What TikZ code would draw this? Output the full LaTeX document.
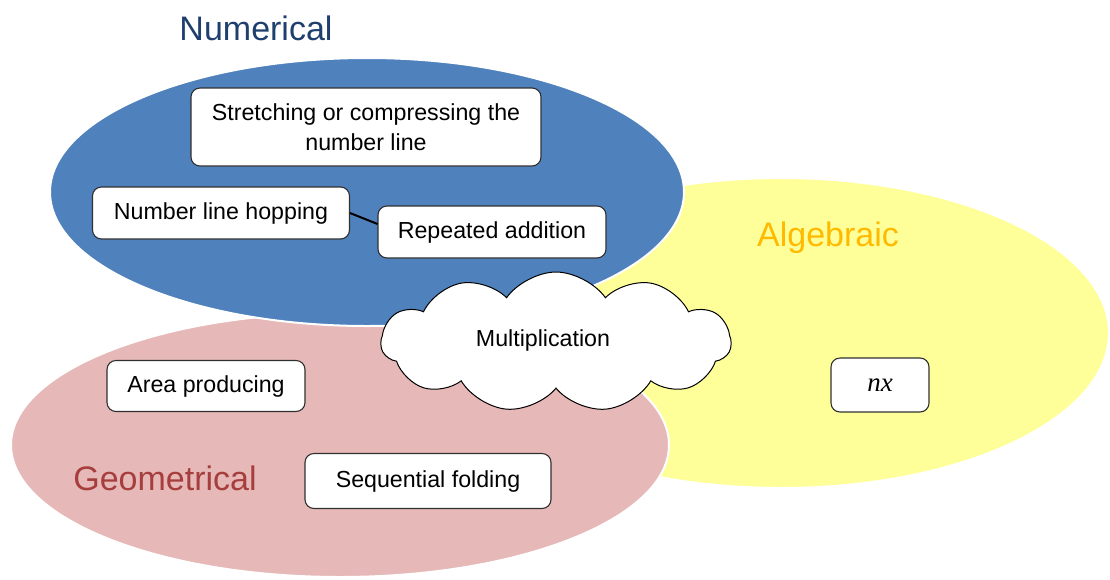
\documentclass[tikz,border=0pt]{standalone}
\usepackage{fontspec}
\setmainfont{Liberation Sans}
\newfontfamily\mathserif{Liberation Serif}
\usetikzlibrary{shapes.geometric,shapes.symbols}
\definecolor{numblue}{HTML}{4F81BD}
\definecolor{geopink}{HTML}{E6B9B8}
\definecolor{algyellow}{HTML}{FFFF99}
\definecolor{numtitle}{HTML}{1F3F6E}
\definecolor{algtitle}{HTML}{FFBA00}
\definecolor{geotitle}{HTML}{A53E3C}
\definecolor{boxline}{HTML}{303030}
\tikzset{
  region/.style={ellipse, draw=white, line width=2pt, inner sep=0pt},
  idea/.style={rectangle, rounded corners=9pt, draw=boxline, line width=1.1pt, fill=white,
    font=\fontsize{23.2}{30}\selectfont, align=center, inner sep=0pt},
  title/.style={font=\fontsize{34}{40}\selectfont, inner sep=0pt},
}
\begin{document}
\begin{tikzpicture}[x=1pt,y=-1pt]
\useasboundingbox (0,0) rectangle (1110,579);
% regions
\node[region, fill=algyellow, minimum width=656pt, minimum height=310pt] (alg) at (781,333) {};
\node[region, fill=geopink, minimum width=658pt, minimum height=264pt] (geo) at (340,445) {};
\node[region, fill=numblue, minimum width=634pt, minimum height=268pt] (num) at (367,192) {};
% titles
\node[title, text=numtitle] (tnum) at (256,28) {Numerical};
\node[title, text=algtitle] (talg) at (828,238) {Algebraic};
\node[title, text=geotitle] (tgeo) at (165,478) {Geometrical};
% boxes
\node[idea, minimum width=350pt, minimum height=78pt] (stretch) at (366,127) {Stretching or compressing the\\number line};
\node[idea, minimum width=257pt, minimum height=52pt] (hop) at (221,213) {Number line hopping};
\node[idea, minimum width=228pt, minimum height=52pt] (rep) at (492,232) {Repeated addition};
\draw[line width=2pt, black] (hop.east) -- (rep.176);
\node[idea, minimum width=198pt, minimum height=51pt] (area) at (206,386) {Area producing};
\node[idea, minimum width=246pt, minimum height=55pt] (fold) at (428,481) {Sequential folding};
\node[idea, minimum width=98pt, minimum height=54pt, font=\fontsize{27}{30}\selectfont\mathserif\itshape] (nx) at (880,385) {nx};
% cloud
\node[cloud, cloud puffs=11, cloud puff arc=110, aspect=2.6, draw=black, line width=1pt, fill=white,
  minimum width=350pt, minimum height=140pt, inner sep=0pt] (mult) at (556,342) {};
\node[font=\fontsize{23.2}{30}\selectfont, inner sep=0pt] (multtext) at (543,340) {Multiplication};
\end{tikzpicture}
\end{document}
